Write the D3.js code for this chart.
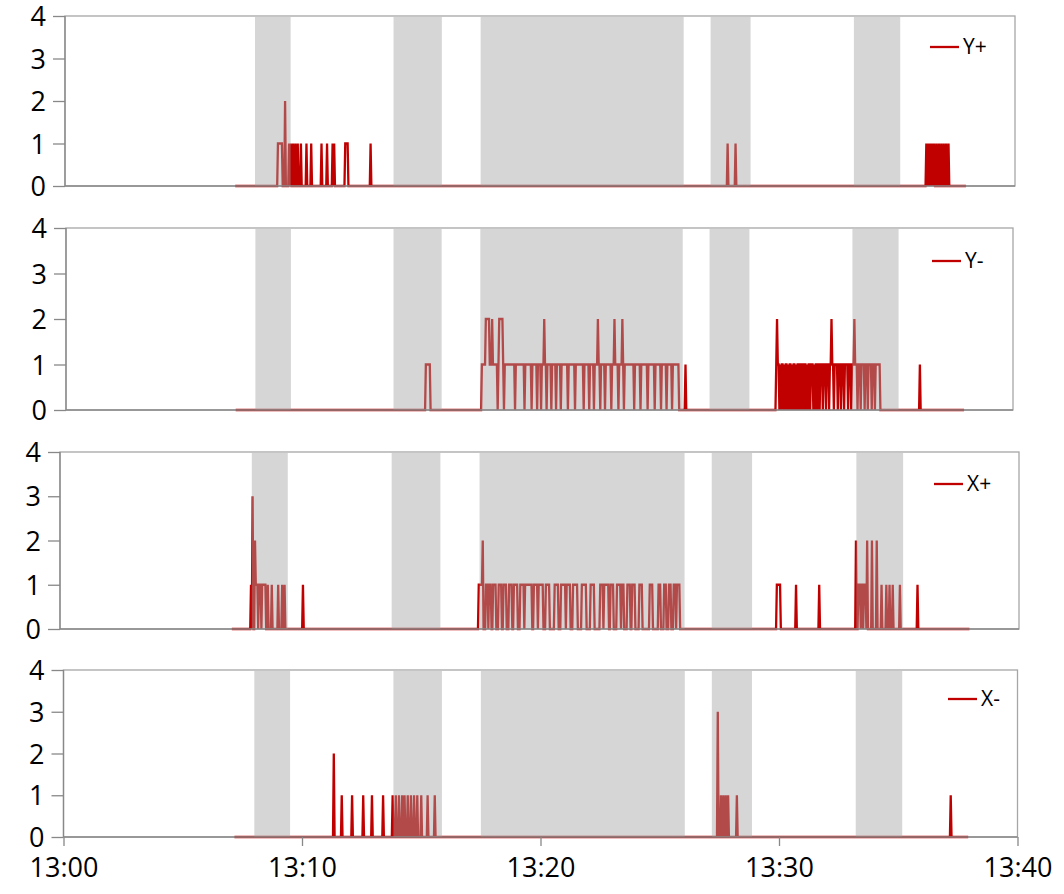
<!DOCTYPE html>
<html>
<head>
<meta charset="utf-8">
<script src="https://cdn.jsdelivr.net/npm/d3@7"></script>
<style>
  body { margin: 0; background: #fff; }
  svg { display: block; }
  text { font-family: "Open Sans", "Noto Sans", sans-serif; fill: #000; }
</style>
</head>
<body>
<svg id="chart" width="1064" height="894"></svg>
<script>
// ---- data -------------------------------------------------------------
const timeTicks = ["13:00", "13:10", "13:20", "13:30", "13:40"];
const yTicks = [0, 1, 2, 3, 4];
const seriesNames = ["Y+", "Y-", "X+", "X-"];

// shaded intervals (start, end)
const shadedBands = [
  ["13:08:00", "13:09:30"],
  ["13:13:50", "13:15:52"],
  ["13:17:30", "13:26:03"],
  ["13:27:11", "13:28:52"],
  ["13:33:13", "13:35:10"]
];

// logging window and sampling interval (seconds)
const sampleStart = "13:07:10";
const sampleEnd = "13:37:56";
const sampleStepSec = 2;

// readings: [time, value] or [from, to, value]; later entries override earlier ones,
// everything not listed reads 0
const yPlusRuns = [
  ["13:08:58", "13:09:08", 1], ["13:09:16", 2],
  ["13:09:26", 1], ["13:09:31", 1], ["13:09:37", 1], ["13:09:42", 1], ["13:09:49", 1], ["13:09:56", 1],
  ["13:10:10", 1], ["13:10:23", 1], ["13:10:48", 1], ["13:11:02", 1], ["13:11:16", 1], ["13:11:21", 1],
  ["13:11:49", "13:11:54", 1], ["13:12:53", 1],
  ["13:27:54", 1], ["13:28:15", 1],
  ["13:36:17", 1], ["13:36:21", 1], ["13:36:25", 1], ["13:36:29", 1], ["13:36:33", 1], ["13:36:37", 1],
  ["13:36:43", 1], ["13:36:49", 1], ["13:36:54", 1], ["13:37:01", 1], ["13:37:06", 1], ["13:37:13", 1]
];

const yMinusRuns = [
  ["13:15:13", "13:15:23", 1],
  ["13:17:35", "13:25:52", 1],
  ["13:17:44", "13:17:53", 2], ["13:18:00", 2], ["13:18:19", "13:18:27", 2],
  ["13:20:12", 2], ["13:22:28", 2], ["13:23:10", 2], ["13:23:30", 2],
  ["13:18:14", 0], ["13:18:30", 0], ["13:18:59", 0], ["13:19:22", 0], ["13:19:40", 0], ["13:19:55", 0],
  ["13:20:05", 0], ["13:20:18", 0], ["13:20:31", 0], ["13:20:43", 0], ["13:20:54", 0], ["13:21:12", 0],
  ["13:21:31", 0], ["13:21:53", 0], ["13:22:06", 0], ["13:22:19", 0], ["13:22:34", 0], ["13:22:46", 0],
  ["13:23:03", 0], ["13:23:21", 0], ["13:23:34", 0], ["13:24:00", 0], ["13:24:17", 0], ["13:24:35", 0],
  ["13:24:53", 0], ["13:25:08", 0], ["13:25:23", 0], ["13:25:37", 0],
  ["13:26:11", 1],
  ["13:30:00", "13:34:23", 1],
  ["13:30:02", 2], ["13:32:20", 2], ["13:33:18", 2],
  ["13:30:08", 0], ["13:30:13", 0], ["13:30:18", 0], ["13:30:23", 0], ["13:30:28", 0], ["13:30:33", 0],
  ["13:30:38", 0], ["13:30:43", 0], ["13:30:48", 0], ["13:30:53", 0], ["13:30:59", 0], ["13:31:05", 0],
  ["13:31:10", 0], ["13:31:16", 0], ["13:31:21", 0], ["13:31:27", 0], ["13:31:34", 0], ["13:31:39", 0],
  ["13:31:44", 0], ["13:31:50", 0], ["13:31:58", 0], ["13:32:07", 0], ["13:32:14", 0], ["13:32:27", 0],
  ["13:32:36", 0], ["13:32:44", 0], ["13:32:53", 0], ["13:33:02", 0], ["13:33:11", 0], ["13:33:26", 0],
  ["13:33:35", 0], ["13:33:44", 0], ["13:33:53", 0], ["13:34:02", 0], ["13:34:10", 0],
  ["13:36:05", 1]
];

const xPlusRuns = [
  ["13:07:59", 1], ["13:08:02", 3], ["13:08:08", 2], ["13:08:10", "13:08:34", 1],
  ["13:08:17", 0], ["13:08:24", 0],
  ["13:08:40", 1], ["13:08:51", 1], ["13:09:06", 1], ["13:09:17", 1], ["13:09:22", 1],
  ["13:10:08", 1],
  ["13:17:28", "13:17:37", 1], ["13:17:39", 2],
  ["13:17:46", "13:17:50", 1], ["13:17:55", "13:17:59", 1], ["13:18:05", "13:18:11", 1], ["13:18:19", "13:18:25", 1],
  ["13:18:31", "13:18:37", 1], ["13:18:44", "13:18:50", 1], ["13:18:56", "13:19:04", 1], ["13:19:12", "13:19:20", 1],
  ["13:19:24", "13:19:33", 1], ["13:19:35", "13:19:41", 1], ["13:19:46", "13:19:55", 1], ["13:19:59", "13:20:08", 1],
  ["13:20:16", "13:20:25", 1], ["13:20:38", "13:20:47", 1], ["13:20:55", "13:21:04", 1], ["13:21:08", "13:21:17", 1],
  ["13:21:25", "13:21:34", 1], ["13:21:47", "13:21:56", 1], ["13:22:09", "13:22:17", 1], ["13:22:32", "13:22:39", 1],
  ["13:22:43", "13:22:52", 1], ["13:22:58", "13:23:05", 1], ["13:23:14", "13:23:22", 1], ["13:23:26", "13:23:31", 1],
  ["13:23:40", "13:23:47", 1], ["13:23:53", "13:23:59", 1], ["13:24:10", "13:24:16", 1], ["13:24:36", "13:24:42", 1],
  ["13:24:58", "13:25:02", 1], ["13:25:13", "13:25:17", 1], ["13:25:25", "13:25:29", 1], ["13:25:37", "13:25:41", 1],
  ["13:25:45", "13:25:51", 1],
  ["13:29:54", "13:30:02", 1], ["13:30:42", 1], ["13:31:40", 1],
  ["13:33:12", 1], ["13:33:13", 2], ["13:33:18", "13:33:37", 1],
  ["13:33:41", 2], ["13:33:53", 2], ["13:34:04", 2],
  ["13:33:24", 0], ["13:33:31", 0],
  ["13:34:16", 1], ["13:34:29", 1], ["13:34:36", 1], ["13:34:44", 1], ["13:35:02", 1],
  ["13:35:47", 1]
];

const xMinusRuns = [
  ["13:11:21", 2], ["13:11:40", 1], ["13:12:06", 1], ["13:12:34", 1], ["13:12:56", 1], ["13:13:24", 1],
  ["13:13:49", 1], ["13:13:57", 1], ["13:14:04", 1], ["13:14:12", 1], ["13:14:19", 1], ["13:14:27", 1],
  ["13:14:34", 1], ["13:14:42", 1], ["13:14:50", 1], ["13:15:00", 1], ["13:15:16", 1], ["13:15:35", 1],
  ["13:27:27", 3], ["13:27:35", 1], ["13:27:41", 1], ["13:27:47", 1], ["13:27:53", 1], ["13:28:15", 1],
  ["13:37:12", 1]
];

const seriesRuns = [yPlusRuns, yMinusRuns, xPlusRuns, xMinusRuns];

// ---- layout -------------------------------------------------------------
const panelBoxes = [
  { left: 65, right: 1015, top: 16, bottom: 186, legendX: 930, legendY: 47 },
  { left: 66, right: 1013, top: 228, bottom: 410, legendX: 932, legendY: 261 },
  { left: 60, right: 1019, top: 452, bottom: 629, legendX: 934, legendY: 484 },
  { left: 63.5, right: 1017.5, top: 670, bottom: 837, legendX: 948, legendY: 699 }
];

const lineColor = "#c00000";
const axisColor = "#888888";
const frameColor = "#a6a6a6";

const parseT = d3.timeParse("%H:%M:%S");
const parseHM = d3.timeParse("%H:%M");

function buildSamples(runs) {
  const start = +parseT(sampleStart), end = +parseT(sampleEnd);
  const step = sampleStepSec * 1000, half = step / 2;
  const readings = runs.map(r => r.length === 2
    ? { a: +parseT(r[0]), b: +parseT(r[0]), v: r[1] }
    : { a: +parseT(r[0]), b: +parseT(r[1]), v: r[2] });
  const out = [];
  for (let t = start; t <= end; t += step) {
    let v = 0;
    for (const r of readings) if (t >= r.a - half && t < r.b + half) v = r.v;
    out.push({ t: new Date(t), v });
  }
  return out;
}

const svg = d3.select("#chart");
svg.append("rect").attr("width", 1064).attr("height", 894).attr("fill", "#fff");

seriesNames.forEach((name, i) => {
  const box = panelBoxes[i];
  const x = d3.scaleTime()
    .domain([parseHM(timeTicks[0]), parseHM(timeTicks[timeTicks.length - 1])])
    .range([box.left, box.right]);
  const y = d3.scaleLinear().domain([0, 4]).range([box.bottom, box.top]);
  const g = svg.append("g");

  // frame
  g.append("rect")
    .attr("x", box.left).attr("y", box.top)
    .attr("width", box.right - box.left).attr("height", box.bottom - box.top)
    .attr("fill", "#fff").attr("stroke", frameColor).attr("stroke-width", 1.3);

  // series
  const data = buildSamples(seriesRuns[i]);
  g.append("path")
    .datum(data)
    .attr("fill", "none")
    .attr("stroke", lineColor)
    .attr("stroke-width", 2.3)
    .attr("stroke-linejoin", "miter")
    .attr("d", d3.line().x(d => x(d.t)).y(d => y(d.v)));

  // shaded intervals laid over the trace
  g.selectAll("rect.band")
    .data(shadedBands)
    .join("rect")
    .attr("class", "band")
    .attr("x", d => x(parseT(d[0])))
    .attr("width", d => x(parseT(d[1])) - x(parseT(d[0])))
    .attr("y", y(4) + 1)
    .attr("height", y(0) - y(4) - 1)
    .attr("fill", "#a4a4a4")
    .attr("fill-opacity", 0.45);

  // y axis
  const yAxis = g.append("g")
    .attr("transform", `translate(${box.left},0)`)
    .call(d3.axisLeft(y).tickValues(yTicks).tickFormat(d3.format("d")).tickSize(12).tickPadding(7));
  yAxis.select(".domain").remove();
  yAxis.selectAll(".tick line").attr("stroke", axisColor).attr("stroke-width", 1.3);
  yAxis.selectAll(".tick text").style("font-size", "27px").attr("dy", "0.36em");

  g.append("line")
    .attr("x1", box.left).attr("x2", box.left)
    .attr("y1", box.top).attr("y2", box.bottom)
    .attr("stroke", axisColor).attr("stroke-width", 1.3);
  g.append("line")
    .attr("x1", box.left).attr("x2", box.right)
    .attr("y1", box.bottom).attr("y2", box.bottom)
    .attr("stroke", axisColor).attr("stroke-width", 1.3);

  // time axis on the bottom panel only
  if (i === seriesNames.length - 1) {
    const xAxis = g.append("g")
      .attr("transform", `translate(0,${box.bottom})`)
      .call(d3.axisBottom(x).tickValues(timeTicks.map(parseHM)).tickFormat(d3.timeFormat("%H:%M")).tickSize(9).tickPadding(12));
    xAxis.select(".domain").remove();
    xAxis.selectAll(".tick line").attr("stroke", axisColor).attr("stroke-width", 1.3);
    xAxis.selectAll(".tick text").style("font-size", "27px");
  }

  // legend
  g.append("line")
    .attr("x1", box.legendX).attr("x2", box.legendX + 29)
    .attr("y1", box.legendY).attr("y2", box.legendY)
    .attr("stroke", lineColor).attr("stroke-width", 2.3);
  g.append("text")
    .attr("x", box.legendX + 33).attr("y", box.legendY)
    .attr("dy", "0.35em")
    .style("font-size", "21px")
    .text(name);
});
</script>
</body>
</html>
